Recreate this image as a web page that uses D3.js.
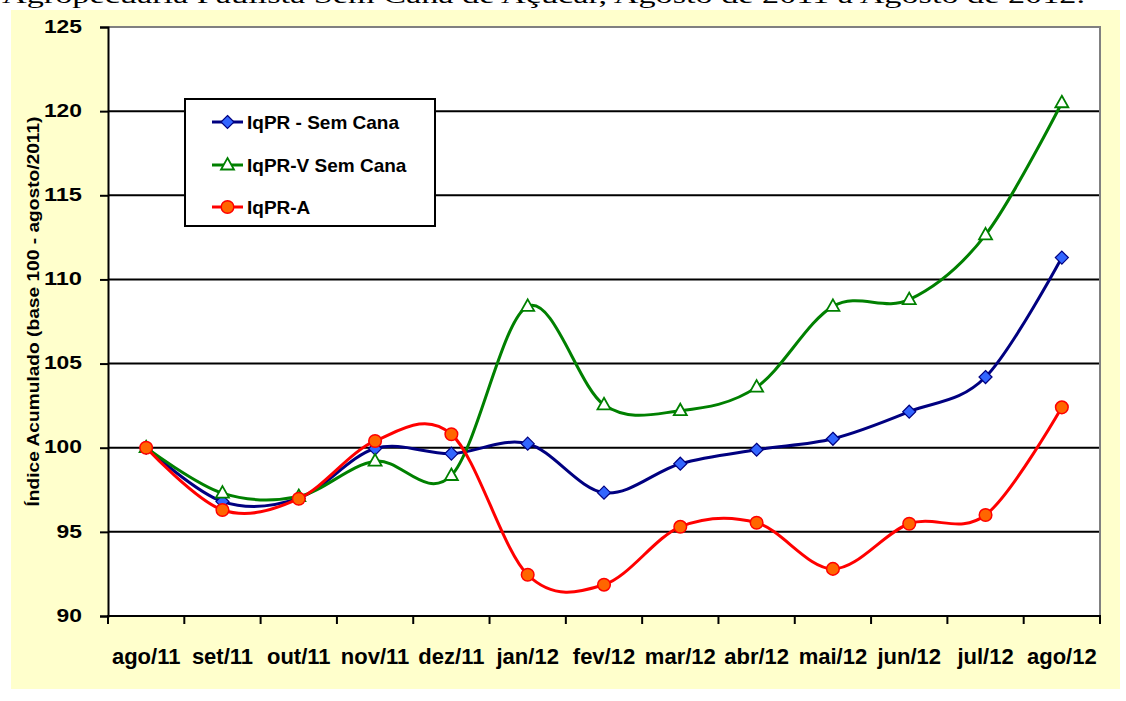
<!DOCTYPE html>
<html><head><meta charset="utf-8">
<script src="https://cdn.jsdelivr.net/npm/d3@7"></script>
<style>body{margin:0;background:#fff;} svg{display:block;}</style>
</head><body><svg id="c" width="1126" height="701"></svg>
<script>
const categories = ["ago/11","set/11","out/11","nov/11","dez/11","jan/12","fev/12","mar/12","abr/12","mai/12","jun/12","jul/12","ago/12"];
const iqprSemCana  = [100, 96.8, 97.0, 99.95, 99.65, 100.24, 97.33, 99.05, 99.88, 100.53, 102.14, 104.2, 111.3];
const iqprVSemCana = [100, 97.3, 97.1, 99.2, 98.35, 108.4, 102.55, 102.2, 103.6, 108.4, 108.8, 112.65, 120.5];
const iqprA        = [100, 96.3, 96.97, 100.4, 100.8, 92.45, 91.86, 95.3, 95.54, 92.8, 95.48, 96.0, 102.4];
const seriesNames = ["IqPR - Sem Cana", "IqPR-V Sem Cana", "IqPR-A"];
const yTicks = [90, 95, 100, 105, 110, 115, 120, 125];
const titleText = "Agropecuária Paulista Sem Cana de Açúcar, Agosto de 2011 a Agosto de 2012.";
const yAxisTitle = "Índice Acumulado (base 100 - agosto/2011)";

const svg = d3.select("#c");
const L = 108, R = 1100, T = 27, B = 616;

// partial caption above the chart (clipped at top edge, as in the reference)
svg.append("text").attr("x", 2).attr("y", 3)
  .attr("font-family", "Liberation Serif, Times New Roman, serif")
  .attr("font-size", 24).attr("textLength", 1083).attr("lengthAdjust", "spacingAndGlyphs")
  .attr("fill", "#000").text(titleText);

// chart background
svg.append("rect").attr("x", 11).attr("y", 10).attr("width", 1109).attr("height", 679).attr("fill", "#FFFFCC");

const x = d3.scaleBand().domain(categories).range([L, R]).padding(0);
const y = d3.scaleLinear().domain([90, 125]).range([B, T]);

// plot area
svg.append("rect").attr("x", L).attr("y", T).attr("width", R - L).attr("height", B - T).attr("fill", "#fff");

// gridlines
svg.append("g").selectAll("line").data(yTicks.filter(v => v > 90 && v < 125)).join("line")
  .attr("x1", L).attr("x2", R).attr("y1", d => y(d)).attr("y2", d => y(d))
  .attr("stroke", "#000").attr("stroke-width", 2);

// plot border top/right (gray)
svg.append("path").attr("d", `M${L},${T}H${R}V${B}`).attr("fill", "none").attr("stroke", "#808080").attr("stroke-width", 2);

// y axis
const yAxis = svg.append("g").attr("transform", `translate(${L},0)`)
  .call(d3.axisLeft(y).tickValues(yTicks).tickSize(8).tickPadding(18).tickFormat(d3.format("d")));
yAxis.select(".domain").attr("stroke", "#000").attr("stroke-width", 2);
yAxis.selectAll(".tick line").attr("stroke", "#000").attr("stroke-width", 2);
yAxis.selectAll(".tick text")
  .attr("font-family", "Liberation Sans, Arial, sans-serif").attr("font-weight", "bold")
  .attr("font-size", 17.5).attr("fill", "#000").attr("dy", "0.3em")
  .attr("textLength", d => String(d).length * 12.7).attr("lengthAdjust", "spacingAndGlyphs");

// x axis
const xAxis = svg.append("g").attr("transform", `translate(0,${B})`)
  .call(d3.axisBottom(x).tickSize(0).tickPadding(32));
xAxis.select(".domain").remove();
xAxis.selectAll(".tick text")
  .attr("font-family", "Liberation Sans, Arial, sans-serif").attr("font-weight", "bold")
  .attr("font-size", 22).attr("fill", "#000");
svg.append("line").attr("x1", L - 1).attr("x2", R + 1).attr("y1", B).attr("y2", B).attr("stroke", "#000").attr("stroke-width", 2);
const edges = categories.map(c => x(c)).concat([x(categories[categories.length - 1]) + x.step()]);
svg.append("g").selectAll("line").data(edges).join("line")
  .attr("x1", d => d).attr("x2", d => d).attr("y1", B).attr("y2", B + 8)
  .attr("stroke", "#000").attr("stroke-width", 2);

// y axis title
svg.append("text").attr("transform", `translate(39,${(T + B) / 2 - 10}) rotate(-90)`)
  .attr("text-anchor", "middle").attr("font-family", "Liberation Sans, Arial, sans-serif")
  .attr("font-weight", "bold").attr("font-size", 16).attr("fill", "#000")
  .attr("textLength", 390).attr("lengthAdjust", "spacingAndGlyphs").text(yAxisTitle);

const cx = c => x(c) + x.bandwidth() / 2;
const line = d3.line().curve(d3.curveCatmullRom.alpha(0));

const series = [
  {name: seriesNames[0], values: iqprSemCana, color: "#000080", marker: "diamond"},
  {name: seriesNames[1], values: iqprVSemCana, color: "#008000", marker: "triangle"},
  {name: seriesNames[2], values: iqprA, color: "#FF0000", marker: "circle"}
];

function drawMarker(g, type, px, py, color) {
  if (type === "diamond") {
    g.append("path").attr("d", `M${px},${py - 6.5}L${px + 6.5},${py}L${px},${py + 6.5}L${px - 6.5},${py}Z`)
      .attr("fill", "#3366FF").attr("stroke", color).attr("stroke-width", 1.2);
  } else if (type === "triangle") {
    g.append("path").attr("d", `M${px},${py - 7}L${px + 6.5},${py + 4.5}L${px - 6.5},${py + 4.5}Z`)
      .attr("fill", "#fff").attr("stroke", color).attr("stroke-width", 1.8);
  } else {
    g.append("circle").attr("cx", px).attr("cy", py).attr("r", 6.3)
      .attr("fill", "#FF6600").attr("stroke", color).attr("stroke-width", 1.5);
  }
}

series.forEach(s => {
  const pts = s.values.map((v, i) => [cx(categories[i]), y(v)]);
  svg.append("path").attr("d", line(pts)).attr("fill", "none").attr("stroke", s.color).attr("stroke-width", 3);
  const g = svg.append("g");
  pts.forEach(p => drawMarker(g, s.marker, p[0], p[1], s.color));
});

// legend
const lg = svg.append("g");
lg.append("rect").attr("x", 185).attr("y", 99).attr("width", 250).attr("height", 127)
  .attr("fill", "#fff").attr("stroke", "#000").attr("stroke-width", 2);
const rowsY = [122, 165, 207];
series.forEach((s, i) => {
  lg.append("line").attr("x1", 212).attr("x2", 243).attr("y1", rowsY[i]).attr("y2", rowsY[i])
    .attr("stroke", s.color).attr("stroke-width", 3);
  drawMarker(lg, s.marker, 227.5, rowsY[i], s.color);
  lg.append("text").attr("x", 247).attr("y", rowsY[i] + 7)
    .attr("font-family", "Liberation Sans, Arial, sans-serif").attr("font-weight", "bold")
    .attr("font-size", 19).attr("fill", "#000").text(s.name);
});
</script></body></html>
